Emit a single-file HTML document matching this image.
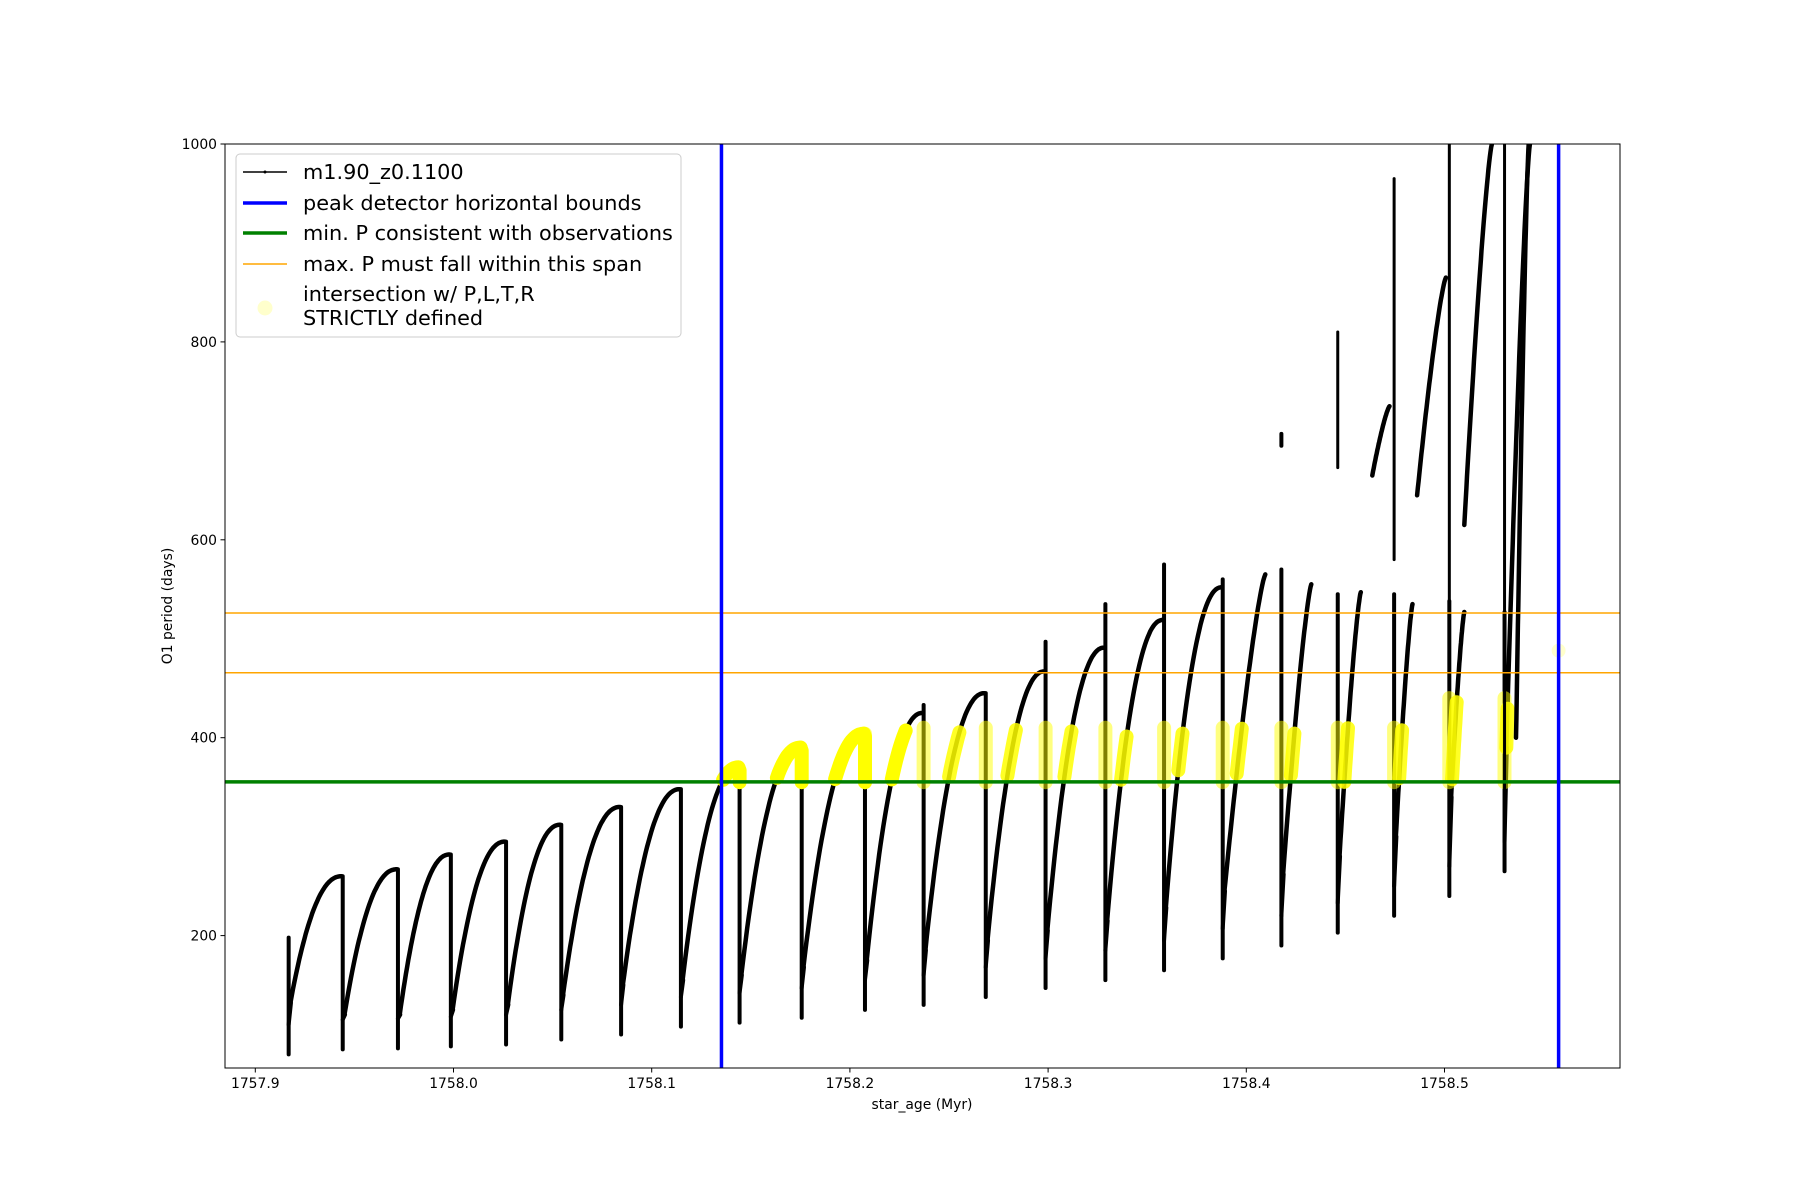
<!DOCTYPE html>
<html><head><meta charset="utf-8"><style>
html,body{margin:0;padding:0;background:#fff;}
svg{display:block;font-family:"DejaVu Sans","Liberation Sans",sans-serif;}
</style></head><body>
<svg id="s" width="1800" height="1200" viewBox="0 0 1800 1200" xmlns="http://www.w3.org/2000/svg">
<rect width="1800" height="1200" fill="#fff"/>
<defs><clipPath id="c"><rect x="225" y="144" width="1395" height="924"/></clipPath></defs>
<g id="data" clip-path="url(#c)"></g>
<rect x="225" y="144" width="1395" height="924" fill="none" stroke="#000" stroke-width="1"/>
<g id="ticks" font-size="13.9" fill="#000"></g>
<text x="922" y="1109" font-size="13.9" text-anchor="middle">star_age (Myr)</text>
<text x="0" y="0" font-size="13.9" text-anchor="middle" transform="translate(172,606) rotate(-90)">O1 period (days)</text>
<g>
<rect x="236" y="154" width="445" height="183" rx="4" fill="#fff" fill-opacity="0.8" stroke="#ccc" stroke-width="1"/>
<line x1="243" y1="172" x2="287" y2="172" stroke="#000" stroke-width="1.5"/><circle cx="265" cy="172" r="1.5"/>
<line x1="243" y1="203" x2="287" y2="203" stroke="#00f" stroke-width="3.5"/>
<line x1="243" y1="233" x2="287" y2="233" stroke="#008000" stroke-width="3.5"/>
<line x1="243" y1="264" x2="287" y2="264" stroke="#ffa500" stroke-width="1.5"/>
<circle cx="265" cy="308" r="7.5" fill="#ffff00" fill-opacity="0.2"/>
<g font-size="20.8" fill="#000">
<text x="303" y="179">m1.90_z0.1100</text>
<text x="303" y="210">peak detector horizontal bounds</text>
<text x="303" y="240">min. P consistent with observations</text>
<text x="303" y="271">max. P must fall within this span</text>
<text x="303" y="301">intersection w/ P,L,T,R</text>
<text x="303" y="325">STRICTLY defined</text>
</g>
</g>
</svg>
<script>
(function(){
var NS="http://www.w3.org/2000/svg";
function X(a){return 255.3+(a-1757.9)*1982;}
function XD(xd){return X(1757.9+(xd-222)/1723);}
function Y(v){return 144+(1000-v)*0.9895;}
var data=document.getElementById('data'),ticks=document.getElementById('ticks');
function el(n,at,p){var e=document.createElementNS(NS,n);for(var k in at)e.setAttribute(k,at[k]);(p||data).appendChild(e);return e;}
[1757.9,1758.0,1758.1,1758.2,1758.3,1758.4,1758.5].forEach(function(a){var x=X(a);
el('line',{x1:x,y1:1068,x2:x,y2:1072.5,stroke:'#000','stroke-width':1},ticks);
el('text',{x:x,y:1088,'text-anchor':'middle'},ticks).textContent=a.toFixed(1);});
[200,400,600,800,1000].forEach(function(v){var y=Y(v);
el('line',{x1:220.5,y1:y,x2:225,y2:y,stroke:'#000','stroke-width':1},ticks);
el('text',{x:217,y:y+5,'text-anchor':'end'},ticks).textContent=v;});
var drops=[251,298,346,392,440,488,540,592,643,697,752,803,857,909,961,1012,1063,1114,1163,1212,1260,1308];
var mins=[132,120,120,125,130,140,150,155,160,168,175,185,195,205,215,228,245,262,280,300,340,390];
var spk=[80,85,86,88,90,95,100,108,112,117,125,130,138,147,155,165,177,190,203,220,240,265];
var peaks=[260,267,282,295,312,330,348,370,390,404,425,445,467,491,519,552,565,555,547,535,527,1000];
var spUp=[198,0,0,0,0,0,0,0,0,0,0,433,400,497,535,575,560,570,545,545,538,527];
var riseEnd=[];for(var i=0;i<drops.length;i++){riseEnd.push(i<drops.length-1?drops[i+1]-1:1330);}
riseEnd[16]=1100;riseEnd[17]=1140;riseEnd[18]=1183;riseEnd[19]=1228;riseEnd[20]=1273;riseEnd[21]=1330;
var yellow=[];
function curve(x0,x1,m,p,pw){var pts=[];for(var k=0;k<=40;k++){var t=k/40;var v=m+(p-m)*(1-Math.pow(1-t,pw));pts.push([XD(x0+(x1-x0)*t),v]);}return pts;}
function pathOf(pts){return pts.map(function(q,j){return (j?'L':'M')+q[0].toFixed(1)+' '+Y(q[1]).toFixed(1);}).join(' ');}
var bx=X(1758.1352);
for(var i=0;i<drops.length;i++){
 var pw=i<16?2.2:1.3;
 var pts=curve(drops[i]+1.5,riseEnd[i],mins[i],peaks[i],pw);
 el('path',{d:pathOf(pts),fill:'none',stroke:'#000','stroke-width':4.5,'stroke-linejoin':'round','stroke-linecap':'round'});
 var tp=(i>0&&riseEnd[i-1]>=drops[i]-2)?peaks[i-1]:mins[i]+20;
 if(spUp[i])tp=Math.max(tp,spUp[i]);
 var xx=XD(drops[i]);
 el('line',{x1:xx,y1:Y(tp),x2:xx,y2:Y(spk[i]),stroke:'#000','stroke-width':4,'stroke-linecap':'round'});
 el('line',{x1:xx,y1:Y(spk[i]+30),x2:XD(drops[i]+2),y2:Y(mins[i]),stroke:'#000','stroke-width':4,'stroke-linecap':'round'});
 if(drops[i]>=592){
  var lim=i<20?410:440;
  var ys=pts.filter(function(q){return q[1]>=355&&q[1]<=lim&&q[0]>=bx-3;});
  if(ys.length>1)yellow.push([ys,i<11?1:0.85]);
  if(i+1<drops.length&&drops[i+1]<=752&&peaks[i]<=lim){
   var xn=XD(drops[i+1]);
   yellow.push([[[pts[pts.length-1][0],peaks[i]],[xn,peaks[i]-3],[xn,355]],1]);
  }
  if(drops[i]>=752){yellow.push([[[xx,355],[xx,Math.min(tp,lim)]],0.5]);}
 }
}
yellow.forEach(function(y){el('path',{d:pathOf(y[0]),fill:'none',stroke:'#ffff00','stroke-opacity':y[1],'stroke-width':14,'stroke-linecap':'round','stroke-linejoin':'round'});});
function vline(xd,a,b,w){el('line',{x1:XD(xd),y1:Y(a),x2:XD(xd),y2:Y(b),stroke:'#000','stroke-width':w||3,'stroke-linecap':'round'});}
vline(1114,695,707,4);vline(1163,673,810,3);vline(1212,580,965,3);vline(1260,480,1000,3);vline(1308,270,1000,3);
[[1193,1208,665,735],[1232,1257,645,865],[1273,1297,615,1000],[1318,1329,400,1000]].forEach(function(c){
 el('path',{d:pathOf(curve(c[0],c[1],c[2],c[3],1.3)),fill:'none',stroke:'#000','stroke-width':4.5,'stroke-linecap':'round'});});
el('circle',{cx:XD(1355),cy:Y(488),r:7,fill:'#ffff00','fill-opacity':0.2});
el('line',{x1:225,y1:Y(355.4),x2:1620,y2:Y(355.4),stroke:'#008000','stroke-width':3.5});
el('line',{x1:225,y1:Y(526),x2:1620,y2:Y(526),stroke:'#ffa500','stroke-width':1.5});
el('line',{x1:225,y1:Y(465.7),x2:1620,y2:Y(465.7),stroke:'#ffa500','stroke-width':1.5});
el('line',{x1:bx,y1:144,x2:bx,y2:1068,stroke:'#00f','stroke-width':3.5});
el('line',{x1:XD(1355),y1:144,x2:XD(1355),y2:1068,stroke:'#00f','stroke-width':3.5});
})();
</script>
</body></html>
